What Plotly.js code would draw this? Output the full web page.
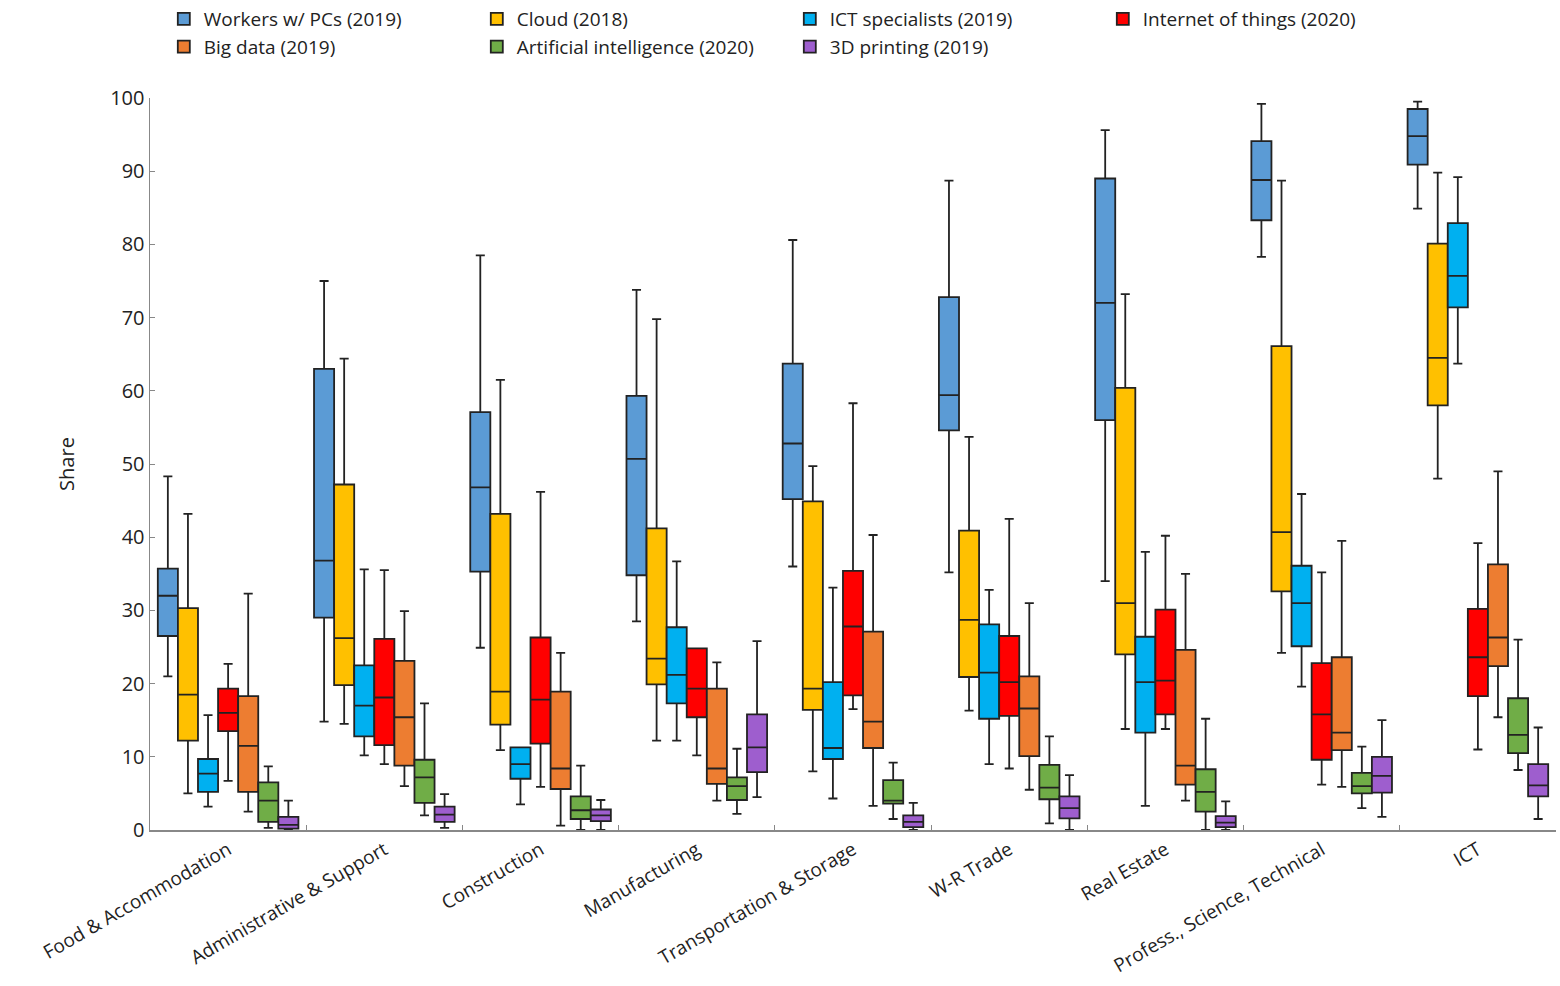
<!DOCTYPE html>
<html>
<head>
<meta charset="utf-8">
<script src="https://cdn.plot.ly/plotly-3.0.1.min.js"></script>
<style>
  html, body { margin: 0; padding: 0; background: #fff; }
  #chart { width: 1560px; height: 986px; }
</style>
</head>
<body>
<div id="chart"></div>
<script>
// Categories along the x axis
const categories = [
  'Food & Accommodation', 'Administrative & Support', 'Construction',
  'Manufacturing', 'Transportation & Storage', 'W-R Trade',
  'Real Estate', 'Profess., Science, Technical', 'ICT'
];

// Each row: [lower whisker, q1, median, q3, upper whisker] per category
const workersPCs = [
  [21, 26.5, 32, 35.7, 48.3], [14.8, 29, 36.8, 63, 75], [24.9, 35.3, 46.8, 57.1, 78.5],
  [28.5, 34.8, 50.7, 59.3, 73.8], [36, 45.2, 52.8, 63.7, 80.6], [35.2, 54.6, 59.4, 72.8, 88.7],
  [34, 56, 72, 89, 95.6], [78.3, 83.3, 88.8, 94.1, 99.2], [84.9, 90.9, 94.8, 98.5, 99.5]
];
const cloud = [
  [5, 12.2, 18.5, 30.3, 43.2], [14.5, 19.8, 26.2, 47.2, 64.4], [10.9, 14.4, 18.9, 43.2, 61.5],
  [12.2, 19.9, 23.4, 41.2, 69.8], [8, 16.4, 19.3, 44.9, 49.7], [16.3, 20.9, 28.7, 40.9, 53.7],
  [13.8, 24, 31, 60.4, 73.2], [24.2, 32.6, 40.7, 66.1, 88.7], [48, 58, 64.5, 80.1, 89.8]
];
const ictSpecialists = [
  [3.2, 5.2, 7.7, 9.7, 15.7], [10.2, 12.8, 17, 22.5, 35.6], [3.5, 7, 9, 11.3, 11.3],
  [12.2, 17.3, 21.2, 27.7, 36.7], [4.3, 9.7, 11.2, 20.2, 33.1], [9, 15.2, 21.5, 28.1, 32.8],
  [3.3, 13.3, 20.2, 26.4, 38], [19.6, 25.1, 31, 36.1, 45.9], [63.7, 71.4, 75.7, 82.9, 89.2]
];
const internetOfThings = [
  [6.7, 13.5, 16, 19.3, 22.7], [9, 11.6, 18.1, 26.1, 35.5], [5.9, 11.8, 17.8, 26.3, 46.2],
  [10.2, 15.4, 19.3, 24.8, 24.8], [16.5, 18.4, 27.8, 35.4, 58.3], [8.4, 15.6, 20.2, 26.5, 42.5],
  [13.8, 15.8, 20.4, 30.1, 40.2], [6.2, 9.6, 15.8, 22.8, 35.2], [11, 18.3, 23.6, 30.2, 39.2]
];
const bigData = [
  [2.5, 5.2, 11.5, 18.3, 32.3], [6, 8.8, 15.4, 23.1, 29.9], [0.6, 5.6, 8.4, 18.9, 24.2],
  [4, 6.3, 8.4, 19.3, 22.9], [3.3, 11.2, 14.8, 27.1, 40.3], [5.5, 10.1, 16.6, 21, 31],
  [4, 6.2, 8.8, 24.6, 35], [5.9, 10.9, 13.3, 23.6, 39.5], [15.4, 22.4, 26.3, 36.3, 49]
];
const artificialIntelligence = [
  [0.3, 1.1, 4, 6.5, 8.7], [2, 3.7, 7.2, 9.6, 17.3], [0, 1.5, 2.7, 4.6, 8.8],
  [2.2, 4.1, 6, 7.2, 11.1], [1.5, 3.6, 4, 6.8, 9.2], [0.9, 4.2, 5.8, 8.9, 12.8],
  [0, 2.5, 5.2, 8.3, 15.2], [3, 5, 6, 7.8, 11.4], [8.2, 10.5, 13, 18, 26]
];
const printing3D = [
  [0, 0.2, 0.7, 1.8, 4], [0.3, 1.1, 2.1, 3.2, 4.9], [0, 1.2, 2, 2.8, 4.1],
  [4.5, 7.9, 11.3, 15.8, 25.8], [0, 0.4, 1.1, 2, 3.7], [0, 1.6, 3, 4.6, 7.5],
  [0, 0.4, 1, 1.9, 3.9], [1.8, 5.1, 7.4, 10, 15], [1.5, 4.6, 6.1, 9, 14]
];

const seriesNames = [
  'Workers w/ PCs (2019)', 'Cloud (2018)', 'ICT specialists (2019)', 'Internet of things (2020)',
  'Big data (2019)', 'Artificial intelligence (2020)', '3D printing (2019)'
];
const seriesData = [workersPCs, cloud, ictSpecialists, internetOfThings, bigData, artificialIntelligence, printing3D];
const seriesColors = ['#5B9BD5', '#FFC000', '#00B0F0', '#FF0000', '#ED7D31', '#70AD47', '#9E5ECE'];

const traces = seriesData.map((rows, i) => ({
  type: 'box',
  name: seriesNames[i],
  x: categories,
  lowerfence: rows.map(r => r[0]),
  q1:         rows.map(r => r[1]),
  median:     rows.map(r => r[2]),
  q3:         rows.map(r => r[3]),
  upperfence: rows.map(r => r[4]),
  fillcolor: seriesColors[i],
  line: { color: '#222', width: 1.8 },
  whiskerwidth: 0.45,
  hoverinfo: 'y+name'
}));

const layout = {
  width: 1560,
  height: 986,
  paper_bgcolor: '#fff',
  plot_bgcolor: '#fff',
  font: { family: 'Open Sans, sans-serif', size: 19, color: '#222' },
  margin: { t: 98, b: 156, l: 150, r: 4 },
  boxmode: 'group',
  boxgap: 0.1,
  boxgroupgap: 0,
  xaxis: {
    type: 'category',
    tickangle: -30,
    showline: true,
    linecolor: '#888',
    linewidth: 1.5,
    ticks: 'inside',
    tickson: 'boundaries',
    ticklen: 5,
    tickcolor: '#888',
    showgrid: false,
    tickfont: { size: 19 }
  },
  yaxis: {
    range: [0, 100],
    dtick: 10,
    showline: true,
    linecolor: '#888',
    linewidth: 1.5,
    ticks: 'inside',
    ticklen: 5,
    tickcolor: '#888',
    showgrid: false,
    zeroline: false,
    tickfont: { size: 20 },
    title: { text: 'Share', font: { size: 20 }, standoff: 30 }
  },
  legend: {
    orientation: 'h',
    xref: 'container',
    yref: 'container',
    x: 0.105,
    xanchor: 'left',
    y: 1,
    yanchor: 'top',
    entrywidth: 268,
    entrywidthmode: 'pixels',
    font: { size: 19 },
    tracegroupgap: 0
  },
  showlegend: true
};

Plotly.newPlot('chart', traces, layout, { displayModeBar: false, staticPlot: true });
</script>
</body>
</html>
